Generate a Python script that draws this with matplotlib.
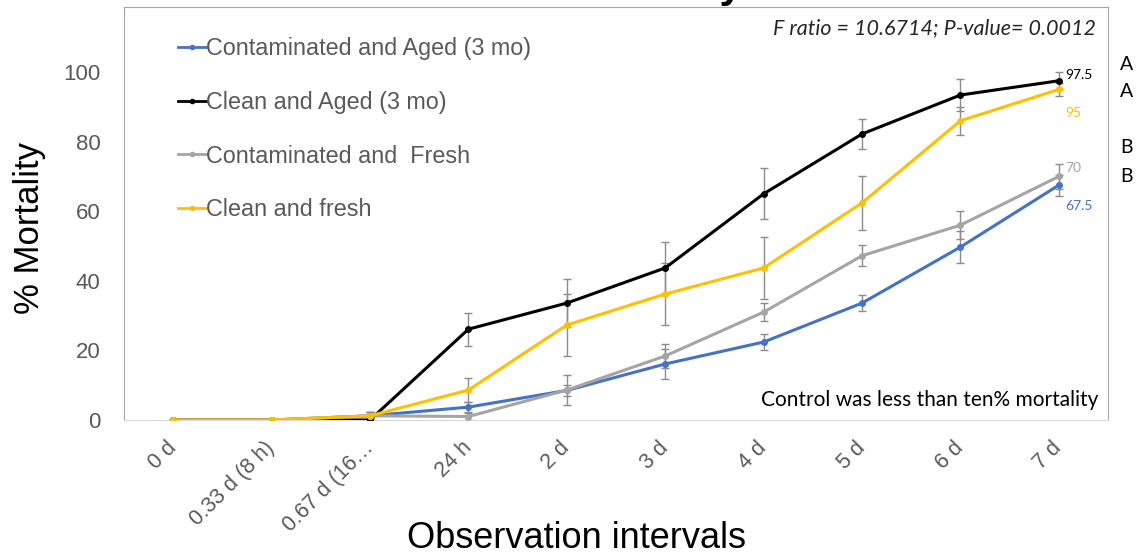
import numpy as np
import matplotlib.pyplot as plt

# observation intervals and mean % mortality per treatment
intervals = ['0 d', '0.33 d (8 h)', '0.67 d (16\u2026', '24 h', '2 d', '3 d', '4 d', '5 d', '6 d', '7 d']

cont_aged = [0, 0, 1.2, 3.7, 8.5, 16.1, 22.4, 33.6, 49.7, 67.5]
clean_aged = [0, 0, 0, 26.1, 33.6, 43.7, 65.0, 82.2, 93.4, 97.5]
cont_fresh = [0, 0, 1.2, 1.0, 8.6, 18.4, 31.0, 47.2, 56.0, 70.0]
clean_fresh = [0, 0, 1.2, 8.6, 27.3, 36.2, 43.7, 62.4, 86.0, 95.0]

# standard errors
cont_aged_err = [0, 0, 1.0, 1.5, 1.5, 4.3, 2.3, 2.4, 4.6, 3.0]
clean_aged_err = [0, 0, 0.5, 4.7, 6.9, 7.5, 7.3, 4.3, 4.6, 2.4]
cont_fresh_err = [0, 0, 1.0, 1.0, 4.2, 3.5, 2.5, 3.0, 4.0, 3.7]
clean_fresh_err = [0, 0, 1.0, 3.4, 8.9, 8.9, 8.8, 7.8, 4.0, 1.8]

series = [
    ('Contaminated and Aged (3 mo)', cont_aged, cont_aged_err, '#4472C4'),
    ('Clean and Aged (3 mo)', clean_aged, clean_aged_err, '#000000'),
    ('Contaminated and  Fresh', cont_fresh, cont_fresh_err, '#A5A5A5'),
    ('Clean and fresh', clean_fresh, clean_fresh_err, '#FFC000'),
]

plt.rcParams['font.family'] = ['Liberation Sans', 'DejaVu Sans']
txt_gray = '#595959'

fig = plt.figure(figsize=(11.38, 5.56), dpi=100)
ax = fig.add_axes([124 / 1138, 136 / 556, 984 / 1138, 413 / 556])

x = np.arange(len(intervals))
for name, vals, err, col in series:
    ax.errorbar(x, vals, yerr=err, ecolor='#8c8c8c', elinewidth=1, capsize=3,
                capthick=1, fmt='none', zorder=2)
for name, vals, err, col in series:
    ax.plot(x, vals, color=col, lw=2.2, marker='o', ms=4, label=name, zorder=3)

ax.set_xlim(-0.5, len(intervals) - 0.5)
ax.set_ylim(0, 118.7)
ax.set_yticks(range(0, 101, 20))
ax.set_xticks(x)
ax.set_xticklabels(intervals, rotation=45, ha='right', va='center',
                   rotation_mode='anchor')
ax.tick_params(axis='both', length=0, labelsize=15.5, labelcolor=txt_gray)
ax.tick_params(axis='x', pad=18)
ax.tick_params(axis='y', pad=17, labelsize=16)

for s in ['top', 'right', 'left']:
    ax.spines[s].set_color('#a6a6a6')
ax.spines['bottom'].set_color('#d9d9d9')

ax.set_ylabel('% Mortality', fontsize=25, va='center')
ax.yaxis.set_label_coords(-94 / 984, 0.465)
ax.set_xlabel('Observation intervals', fontsize=26, va='center')
ax.xaxis.set_label_coords(0.46, -118 / 413)

leg = ax.legend(loc='upper left', bbox_to_anchor=(0.045, 0.95), frameon=False,
                fontsize=16.8, labelspacing=1.32, handlelength=1.2,
                handletextpad=0.0, borderaxespad=0)
for t in leg.get_texts():
    t.set_color(txt_gray)
for h in leg.get_lines():
    h.set_markersize(3)
    h.set_linewidth(2)

calib = ['Lato', 'DejaVu Sans']
# end-point value labels
ax.annotate('97.5', (9, clean_aged[-1]), xytext=(5, 4), textcoords='offset points',
            fontsize=10, color='#000000', family=calib, va='center')
ax.annotate('95', (9, clean_fresh[-1]), xytext=(5, -17), textcoords='offset points',
            fontsize=10, color='#FFC000', family=calib, va='center')
ax.annotate('70', (9, cont_fresh[-1]), xytext=(5, 6), textcoords='offset points',
            fontsize=10, color='#A5A5A5', family=calib, va='center')
ax.annotate('67.5', (9, cont_aged[-1]), xytext=(5, -15), textcoords='offset points',
            fontsize=10, color='#4472C4', family=calib, va='center')

trans = ax.get_yaxis_transform()
for letter, yv in [('A', 102.3), ('A', 94.3), ('B', 78.2), ('B', 70.1)]:
    ax.text(1.012, yv, letter, transform=trans, fontsize=14, family=calib,
            va='center', ha='left', clip_on=False)

ax.text(0.988, 0.948, 'F ratio = 10.6714; P-value= 0.0012', transform=ax.transAxes,
        ha='right', va='center', fontsize=15.5, style='italic', family=calib,
        color='#262626')
ax.text(0.99, 0.048, 'Control was less than ten% mortality', transform=ax.transAxes,
        ha='right', va='center', fontsize=15, family=calib, color='#000000')

# title runs off the top of the picture, only the descender shows
fig.text(743 / 1138, 1 + 3 / 556, 'Mortality', ha='right', va='baseline',
         fontsize=30, fontweight='bold')

fig.savefig('out.png', dpi=100)
